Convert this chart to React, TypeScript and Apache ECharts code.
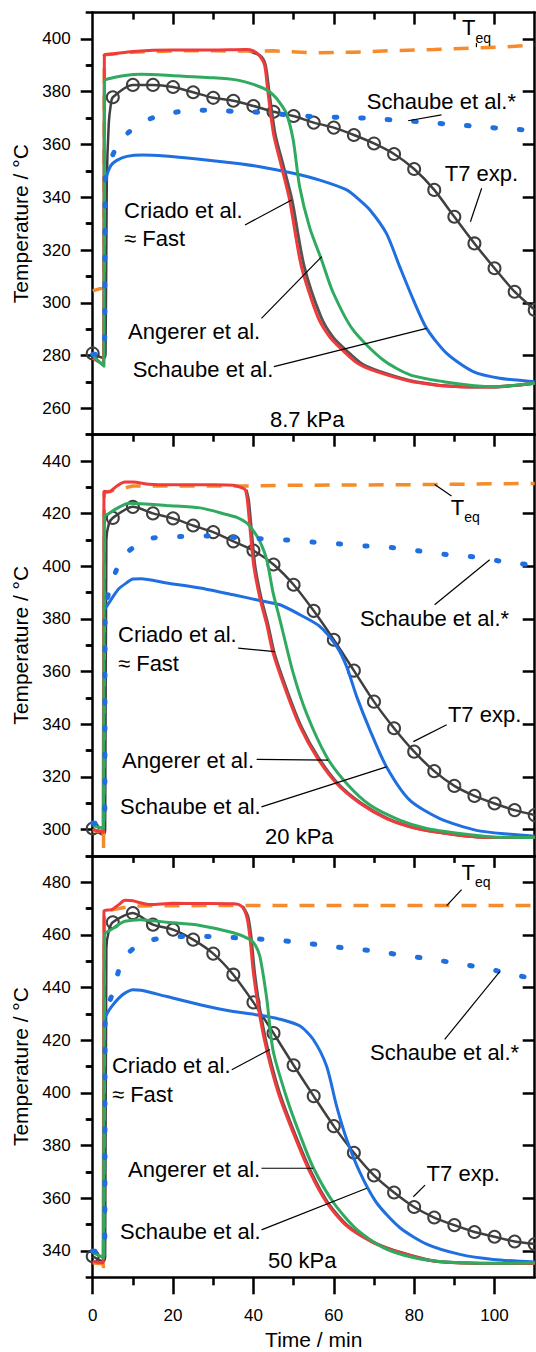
import React, { useEffect, useRef } from "react";
import * as echarts from "echarts";

type P = [number, number];

// ---------- axes / ticks ----------
const xRange: P = [0, 110];
const xMajorTicks = [0, 20, 40, 60, 80, 100];
const xMinorTicks = [10, 30, 50, 70, 90];
const xTopMajorTicks = [20, 40, 60, 80, 100];
const yRanges: P[] = [[250, 410], [290, 450], [330, 490]];
const yMajorTicks: number[][] = [
  [260, 280, 300, 320, 340, 360, 380, 400],
  [300, 320, 340, 360, 380, 400, 420, 440],
  [340, 360, 380, 400, 420, 440, 460, 480],
];
const yMinorTicks: number[][] = [
  [250, 270, 290, 310, 330, 350, 370, 390, 410],
  [290, 310, 330, 350, 370, 390, 410, 430, 450],
  [330, 350, 370, 390, 410, 430, 450, 470, 490],
];
const yTitle = "Temperature / °C";
const xTitle = "Time / min";
const pressureLabels = ["8.7 kPa", "20 kPa", "50 kPa"];

// ---------- panel 1 : 8.7 kPa ----------
const p1Red: P[] = [[0,279],[2.7,276.5],[2.9,394],[5,394.3],[10,395.3],[20,395.8],[30,395.8],[38,396],[40,395.5],[41.6,393.5],[42.8,390],[43.6,380],[45,364],[47,351.6],[49,339],[51.9,314],[56,294.7],[59,287],[62.2,282],[66,277],[70.5,274],[79.6,270.1],[91.2,268.2],[99.5,268.1],[110,269.5]];
const p1Fast: P[] = [[38,396],[41.8,393.5],[43,390],[43.9,380],[45.4,364],[47.5,351.6],[49.6,339],[52.6,314],[56.8,294.7],[59.8,287],[63.1,282],[66.9,277],[71.4,274],[80.3,270.1],[91.5,268.2],[99.5,268.1],[110,269.5]];
const p1Green: P[] = [[0,280],[2.8,276],[2.9,384],[5,385.3],[8,386.2],[12,386.6],[20,386.1],[30,385.3],[35.7,384.5],[40,382.8],[43.3,380.7],[44.9,378.8],[46.5,376],[48.2,371.8],[49.9,361.7],[51.5,344],[54,328.5],[56.9,316.5],[59.8,304],[64.8,289.7],[72.3,278.3],[79,272.7],[87.3,270.1],[95,268.6],[100,268.2],[110,269.5]];
const p1Blue: P[] = [[3.3,347.5],[4.5,352],[6,354],[8.5,355.5],[12.5,356],[18,355.6],[26,354.5],[35,353],[41.6,351.6],[49.9,349.1],[56.5,346.5],[63.2,342.8],[66,339.5],[69,335.2],[73.1,326.3],[76.4,313.7],[79.8,301.1],[83.1,290.3],[88.1,280.8],[94.7,273.9],[101.3,271.4],[110,270.1]];
const p1Dot: P[] = [[0,280.5],[2.8,280.5],[3,290],[3.1,347],[4,352],[5.5,357.8],[7,361.5],[9,364.7],[12,368],[15.1,370.2],[21.7,372.5],[28.4,373],[35,372.6],[41.7,372.2],[49,371.2],[55,370.6],[61.7,370.3],[68.2,370],[74.8,369.3],[81.4,368.6],[88,367.8],[94.7,367],[101,366.2],[108,365.5],[110,365.3]];
const p1Teq: P[] = [[0,304.5],[2.8,305.8],[2.9,394],[10,395],[20,395.5],[30,395.5],[40,395.4],[45,395.5],[55,394.8],[65,395],[75,395.6],[85,396],[95,396.6],[102,396.9],[110,397.8]];
const p1T7Marks: P[] = [[0,280.8],[5,377.9],[10,382.6],[15,382.6],[20,381.8],[25,379.8],[30,377.7],[35,376.6],[40,374.6],[45,372.4],[50,370.8],[55,368.3],[60,366.4],[65,363.6],[70,360.4],[75,356.4],[80,350.7],[85,342.8],[90,332.6],[95,322.5],[100,313.1],[105,304.2],[110,297.3]];
const p1T7Extra: P[] = [[2.8,279],[3.2,281],[3.5,345],[4,368],[4.5,375]];

// ---------- panel 2 : 20 kPa ----------
const p2Red: P[] = [[0,300],[2.6,299],[2.8,428.5],[4,428.3],[6,430.5],[8,432],[10,432],[14,431.2],[20,431],[30,431],[35,430.8],[37,429.9],[38,429],[38.5,425],[39.3,412],[40.1,400],[41.6,388],[43.3,378],[44.9,367],[48.3,351.8],[51.6,339.1],[55.7,327.7],[60.7,317.5],[66.5,310],[73.1,304.2],[80.6,300.4],[88,298.5],[95.5,297.2],[110,297]];
const p2Fast: P[] = [[38.2,429],[38.8,425],[39.6,412],[40.4,400],[41.9,388],[43.6,378],[45.2,367],[48.6,351.8],[51.9,339.1],[56,327.7],[61,317.5],[66.8,310],[73.4,304.2],[80.9,300.4],[88.3,298.5],[95.8,297.2],[110,297]];
const p2Green: P[] = [[0,301.5],[2.7,300.5],[2.9,419],[4,420],[6,422],[9,424],[12,423.8],[18.4,423.1],[26.7,422.2],[33.3,419.7],[36,418.5],[38.3,416.5],[40,413.5],[41.6,409.5],[43.3,402.6],[44.9,389.9],[46.6,379.7],[49.9,359.4],[53.2,344.2],[58.2,327.7],[63.2,317.5],[69,309.3],[76.4,303.6],[83.1,300.4],[91.3,298.5],[99.6,297.2],[110,297]];
const p2Blue: P[] = [[2.9,383.5],[4,386],[5.1,388.6],[6.5,391.5],[8.4,393.7],[10,395.2],[12,395.3],[18.4,393.7],[26.7,391.8],[35,389.2],[41.6,387],[46.6,385.4],[51.6,381.6],[56.5,377.2],[60.7,369.6],[63.2,361.9],[65.7,350.5],[69,337.8],[73.1,323.9],[78.9,311.2],[86.4,304.2],[95.5,299.7],[103.9,298.2],[110,297.5]];
const p2Dot: P[] = [[0,302.5],[2.8,302],[3,305],[3.1,383],[4,390],[5.6,397.5],[7,402],[8.9,405.7],[12,409],[15.1,410.8],[21.7,411.3],[28.4,411.5],[35,411],[41.7,410.5],[48.3,410],[54.9,409.2],[61.5,408.5],[68.2,407.7],[74.8,407.1],[81.4,405.8],[88,404.5],[94.7,403.6],[101.3,402],[110,400.3]];
const p2Teq: P[] = [[0,299.5],[2.6,299.5],[2.7,293],[2.8,293],[2.9,428],[10,430.5],[37,430.5],[50,430.8],[80,431],[110,431.5]];
const p2T7Marks: P[] = [[0,300.4],[5,418.4],[10,422.6],[15,420.1],[20,418.2],[25,415.5],[30,413],[35,409.5],[40,406],[45,400.7],[50,393],[55,383.1],[60,372.1],[65,360.4],[70,348.6],[75,338.5],[80,329.6],[85,322.2],[90,316.6],[95,312.8],[100,309.9],[105,307.4],[110,305.5]];
const p2T7Extra: P[] = [[2.7,298],[3.1,300],[3.4,410],[4,416]];

// ---------- panel 3 : 50 kPa ----------
const p3Red: P[] = [[0,336],[2.6,335.5],[2.8,469],[4.7,469.6],[6.5,471.5],[8,473.2],[10,473],[11.8,472.2],[14.3,471.5],[20,472],[26.7,471.9],[35,471.8],[37,470.9],[38.3,467.1],[39.1,459.5],[40,445.5],[41.6,429],[43.5,415],[46.2,400],[49.9,384.9],[54.1,369.8],[58.2,358.4],[63.2,349.5],[69.8,343.2],[76.4,339.4],[84.7,336.2],[93,335.4],[101,335.2],[110,335.2]];
const p3Fast: P[] = [[37.3,470.9],[38.6,467.1],[39.4,459.5],[40.3,445.5],[41.9,429],[43.8,415],[46.5,400],[50.2,384.9],[54.4,369.8],[58.5,358.4],[63.5,349.5],[70.1,343.2],[76.7,339.4],[85,336.2],[93.3,335.4],[110,335.2]];
const p3Green: P[] = [[0,339.4],[2.7,337.5],[2.9,460],[4.7,462.1],[6.5,464],[8,465.2],[11.8,465.8],[18.4,464.8],[26.7,463.6],[35,460.8],[39.1,458.3],[40.5,456],[41.6,451.9],[43.3,436],[44.9,416],[48.3,398],[51.6,384],[54.9,371.6],[59.9,358.4],[65.7,348.2],[72.3,341.3],[79.8,337.5],[88,335.8],[99.7,335.3],[110,335.5]];
const p3Blue: P[] = [[2.9,427.8],[3.5,430],[4.7,432.8],[6.5,436],[8,437.9],[10,439.2],[12,439],[18.4,436.6],[26.7,433.5],[35,430.9],[41.6,429.5],[46.6,428],[51.6,425.4],[54.9,420.3],[58.2,410.2],[60.7,395],[63.2,382.4],[66.5,369.8],[70.6,358.4],[76.4,348.9],[83.1,342.6],[91.4,338.7],[99.7,336.8],[110,335.8]];
const p3Dot: P[] = [[0,340],[2.8,339.5],[3,342],[3.1,428],[5.1,438.7],[6.8,448],[8.5,452.5],[10.9,455.7],[14,457.8],[17.6,458.9],[24.3,459.5],[30.9,459.3],[38,458.7],[44.1,458.2],[50.7,457.3],[57.4,456],[64,454.8],[70.6,453.8],[77.3,452.2],[83.9,450.9],[90.5,449.2],[97.2,447.5],[103.4,445.4],[110,443.2]];
const p3Teq: P[] = [[0,335.5],[2.6,335],[2.7,333.5],[2.8,333.5],[2.9,469],[10,471],[40,471.2],[110,471.2]];
const p3T7Marks: P[] = [[0,338],[5,464.8],[10,468.3],[15,463.9],[20,462],[25,458.2],[30,452.9],[35,444.9],[40,434.4],[45,422.7],[50,410.5],[55,398.8],[60,387.4],[65,377.3],[70,368.7],[75,362.2],[80,356.7],[85,352.7],[90,349.8],[95,347.2],[100,345.4],[105,343.6],[110,342.6]];
const p3T7Extra: P[] = [[2.7,336],[3.1,338],[3.4,455],[4,461.5]];

const panelData = [
  { red: p1Red, fast: p1Fast, green: p1Green, blue: p1Blue, dot: p1Dot, teq: p1Teq, t7: p1T7Marks, t7x: p1T7Extra },
  { red: p2Red, fast: p2Fast, green: p2Green, blue: p2Blue, dot: p2Dot, teq: p2Teq, t7: p2T7Marks, t7x: p2T7Extra },
  { red: p3Red, fast: p3Fast, green: p3Green, blue: p3Blue, dot: p3Dot, teq: p3Teq, t7: p3T7Marks, t7x: p3T7Extra },
];

// ---------- annotations (anchored in data coordinates) ----------
type Ann = { text: string; at: P };
const annLabels: Ann[][] = [
  [
    { text: "Criado et al.", at: [7.8, 334.8] },
    { text: "≈ Fast", at: [7.8, 324.2] },
    { text: "Angerer et al.", at: [8.8, 289.3] },
    { text: "Schaube et al.", at: [9.95, 274.9] },
    { text: pressureLabels[0], at: [44.1, 255.9] },
    { text: "Schaube et al.*", at: [68.2, 376.3] },
    { text: "T7 exp.", at: [87.6, 349] },
  ],
  [
    { text: "Criado et al.", at: [6.3, 374] },
    { text: "≈ Fast", at: [6.3, 363] },
    { text: "Angerer et al.", at: [7.3, 326.4] },
    { text: "Schaube et al.", at: [6.8, 308.7] },
    { text: pressureLabels[1], at: [42.9, 297.4] },
    { text: "Schaube et al.*", at: [66.5, 380.1] },
    { text: "T7 exp.", at: [88.4, 343.7] },
  ],
  [
    { text: "Criado et al.", at: [4.8, 410.5] },
    { text: "≈ Fast", at: [4.8, 399.3] },
    { text: "Angerer et al.", at: [8.8, 371.1] },
    { text: "Schaube et al.", at: [6.8, 347.4] },
    { text: pressureLabels[2], at: [43.6, 336.4] },
    { text: "Schaube et al.*", at: [69, 415.4] },
    { text: "T7 exp.", at: [83.1, 369.4] },
  ],
];
const teqAnchors: P[] = [[91.9, 404.2], [89.1, 422.5], [91.8, 483.8]];
const pointers: number[][][] = [
  [[37.9,329.5,49.5,339],[42,294.1,57,317.5],[45.1,275.8,83.1,290.3],[78.5,369,86.8,371.2],[94,330.7,96.8,343.4],[95.5,398.5,95.5,396.9]],
  [[36.2,368.9,45.3,367.6],[40.8,326.7,58.6,326.4],[42,308.6,73.1,323.8],[85.1,385.4,98.8,402.5],[79.8,333.4,88.1,339.8],[85.1,431.1,89.3,426.7]],
  [[34.6,408.8,44.1,416.5],[42,371.4,54.9,371.4],[42,348,68.2,363.8],[87.6,420.3,101.3,446.1],[79.8,360.6,82.7,365],[88.1,471.1,91.8,477.2]],
];

// ---------- styling ----------
const FONT = '"Liberation Sans", Arial, Helvetica, sans-serif';
const C = { red: "#EF3B3B", green: "#2FAA5F", blue: "#1F6FE0", orange: "#F68B2C", gray: "#3F3F3F", fast: "#555555" };
const gridRects = [
  { top: 12.6, height: 422.1 },
  { top: 434.7, height: 421.2 },
  { top: 855.9, height: 421.4 },
];
const GRID_LEFT = 92.7;
const GRID_WIDTH = 442;
const AX = "#000";

function t7Data(marks: P[], extra: P[]) {
  const items: any[] = [
    ...marks.map((p) => ({ value: p })),
    ...extra.map((p) => ({ value: p, symbol: "none" })),
  ];
  items.sort((a, b) => a.value[0] - b.value[0]);
  return items;
}

function buildOption() {
  const grid: any[] = [];
  const xAxis: any[] = [];
  const yAxis: any[] = [];
  const series: any[] = [];
  const lblStyle = { color: "#000", fontSize: 17, fontFamily: FONT };

  for (let g = 0; g < 3; g++) {
    const r = gridRects[g];
    const isLast = g === 2;
    const [ymin, ymax] = yRanges[g];
    for (let k = 0; k < 2; k++) {
      grid.push({ left: GRID_LEFT, width: GRID_WIDTH, top: r.top, height: r.height, containLabel: false, outerBoundsMode: "none" });
    }
    const gMain = 2 * g;
    const gMinor = 2 * g + 1;
    xAxis.push({
      gridIndex: gMain, type: "value", position: "bottom", min: xRange[0], max: xRange[1],
      axisLine: { show: true, onZero: false, lineStyle: { color: AX, width: 2.5 } },
      axisTick: isLast ? { show: true, inside: false, length: 17, customValues: xMajorTicks, lineStyle: { color: AX, width: 2.5 } } : { show: false },
      axisLabel: isLast ? { show: true, customValues: xMajorTicks, margin: 30, ...lblStyle } : { show: false },
      splitLine: { show: false },
      name: isLast ? xTitle : "",
      nameLocation: "middle", nameGap: 52,
      nameTextStyle: { color: "#000", fontSize: 21, fontFamily: FONT },
    });
    xAxis.push({
      gridIndex: gMain, type: "value", position: "top", min: xRange[0], max: xRange[1],
      axisLine: { show: true, onZero: false, lineStyle: { color: AX, width: 2.5 } },
      axisTick: { show: true, inside: true, length: 12, customValues: xTopMajorTicks, lineStyle: { color: AX, width: 2.5 } },
      axisLabel: { show: false }, splitLine: { show: false },
    });
    xAxis.push({
      gridIndex: gMinor, type: "value", position: "bottom", min: xRange[0], max: xRange[1],
      show: isLast,
      axisLine: { show: false },
      axisTick: { show: true, inside: false, length: 8, customValues: xMinorTicks, lineStyle: { color: AX, width: 2.5 } },
      axisLabel: { show: false }, splitLine: { show: false },
    });
    xAxis.push({
      gridIndex: gMinor, type: "value", position: "top", min: xRange[0], max: xRange[1],
      axisLine: { show: false },
      axisTick: { show: true, inside: true, length: 7, customValues: xMinorTicks, lineStyle: { color: AX, width: 2.5 } },
      axisLabel: { show: false }, splitLine: { show: false },
    });
    yAxis.push({
      gridIndex: gMain, type: "value", position: "left", min: ymin, max: ymax,
      axisLine: { show: true, onZero: false, lineStyle: { color: AX, width: 2.5 } },
      axisTick: { show: true, inside: false, length: 12, customValues: yMajorTicks[g], lineStyle: { color: AX, width: 2.5 } },
      axisLabel: { show: true, customValues: yMajorTicks[g], margin: 22, ...lblStyle },
      splitLine: { show: false },
      name: yTitle, nameLocation: "middle", nameGap: 56, nameRotate: 90,
      nameTextStyle: { color: "#000", fontSize: 21, fontFamily: FONT },
    });
    yAxis.push({
      gridIndex: gMain, type: "value", position: "right", min: ymin, max: ymax,
      axisLine: { show: true, onZero: false, lineStyle: { color: AX, width: 2.5 } },
      axisTick: { show: true, inside: true, length: 12, customValues: yMajorTicks[g], lineStyle: { color: AX, width: 2.5 } },
      axisLabel: { show: false }, splitLine: { show: false },
    });
    yAxis.push({
      gridIndex: gMinor, type: "value", position: "left", min: ymin, max: ymax,
      axisLine: { show: false },
      axisTick: { show: true, inside: false, length: 7, customValues: yMinorTicks[g], lineStyle: { color: AX, width: 2.5 } },
      axisLabel: { show: false }, splitLine: { show: false },
    });
    yAxis.push({
      gridIndex: gMinor, type: "value", position: "right", min: ymin, max: ymax,
      axisLine: { show: false },
      axisTick: { show: true, inside: true, length: 6, customValues: yMinorTicks[g].slice(1, -1), lineStyle: { color: AX, width: 2.5 } },
      axisLabel: { show: false }, splitLine: { show: false },
    });

    const d = panelData[g];
    const base = {
      type: "line", xAxisIndex: 4 * g, yAxisIndex: 4 * g, symbol: "none", silent: true,
      emphasis: { disabled: true }, clip: true, smooth: 0.25,
    };
    series.push(
      { ...base, name: "T7 exp.", data: t7Data(d.t7, d.t7x), symbol: "circle", symbolSize: 12, showSymbol: true,
        lineStyle: { color: C.gray, width: 2.5 }, itemStyle: { color: "rgba(255,255,255,0)", borderColor: C.gray, borderWidth: 2 }, z: 2 },
      { ...base, name: "Fast", data: d.fast, lineStyle: { color: C.fast, width: 3 }, z: 3 },
      { ...base, name: "Teq", data: d.teq, smooth: false, lineStyle: { color: C.orange, width: 3.5, type: [15, 12] }, z: 4 },
      { ...base, name: "Schaube et al.", data: d.blue, lineStyle: { color: C.blue, width: 3 }, z: 5 },
      { ...base, name: "Criado et al.", data: d.red, lineStyle: { color: C.red, width: 3 }, z: 6 },
      { ...base, name: "Angerer et al.", data: d.green, lineStyle: { color: C.green, width: 3 }, z: 7 },
      { ...base, name: "Schaube et al.*", data: d.dot, lineStyle: { color: C.blue, width: 5, type: [2.5, 24], cap: "round" }, z: 8 },
    );
  }

  return {
    animation: false,
    backgroundColor: "#fff",
    textStyle: { fontFamily: FONT },
    grid, xAxis, yAxis, series,
  };
}

function buildGraphics(chart: echarts.ECharts) {
  const els: any[] = [];
  const txt = (text: string, x: number, y: number, size: number) => ({
    type: "text", x, y, z: 100, silent: true,
    style: { text, fill: "#000", fontSize: size, fontFamily: FONT, align: "left", verticalAlign: "middle", textAlign: "left", textVerticalAlign: "middle" },
  });
  for (let g = 0; g < 3; g++) {
    const finder = { gridIndex: 2 * g };
    const px = (p: number[]) => chart.convertToPixel(finder as any, p) as number[];
    for (const a of annLabels[g]) {
      const [x, y] = px(a.at);
      els.push(txt(a.text, x, y, 22));
    }
    const [tx, ty] = px(teqAnchors[g]);
    els.push(txt("T", tx, ty, 22));
    els.push(txt("eq", tx + 13.5, ty + 10, 14));
    for (const ln of pointers[g]) {
      const [x1, y1] = px([ln[0], ln[1]]);
      const [x2, y2] = px([ln[2], ln[3]]);
      els.push({ type: "line", z: 100, silent: true, shape: { x1, y1, x2, y2 }, style: { stroke: "#000", lineWidth: 1.2 } });
    }
  }
  return els;
}

export default function App() {
  const ref = useRef<HTMLDivElement>(null);
  useEffect(() => {
    if (!ref.current) return;
    const chart = echarts.init(ref.current, undefined, { renderer: "svg" });
    chart.setOption(buildOption() as any);
    chart.setOption({ graphic: { elements: buildGraphics(chart) } } as any);
    return () => chart.dispose();
  }, []);
  return (
    <div style={{ position: "absolute", left: 0, top: 0, width: 536, height: 1352, background: "#fff" }}>
      <div ref={ref} style={{ width: 536, height: 1352 }} />
    </div>
  );
}
